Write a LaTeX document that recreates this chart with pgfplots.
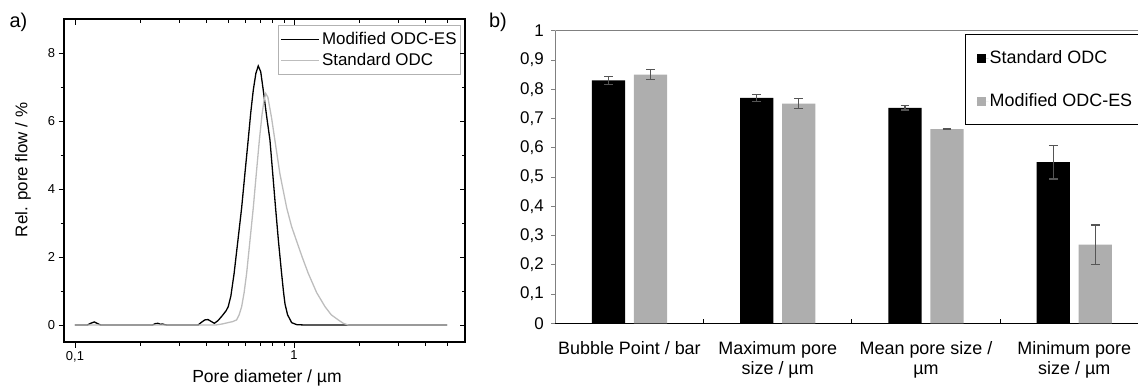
\documentclass[border=0pt]{standalone}
\usepackage{fontspec}
\setmainfont{Liberation Sans}
\usepackage{pgfplots}
\pgfplotsset{compat=1.18}
\definecolor{barg}{HTML}{AEAEAE}
\definecolor{lineg}{HTML}{BDBDBD}
\definecolor{errg}{HTML}{555555}
\pgfplotstableread{
x y
0.100 0
0.114 0
0.118 0.05
0.1225 0.09
0.127 0.04
0.131 0
0.226 0
0.233 0.04
0.239 0.05
0.246 0.02
0.251 0.03
0.257 0.01
0.263 0
0.365 0
0.378 0.08
0.392 0.15
0.405 0.16
0.420 0.10
0.433 0.05
0.450 0.13
0.470 0.27
0.490 0.42
0.501 0.54
0.515 0.85
0.533 1.52
0.555 2.5
0.577 3.45
0.597 4.45
0.618 5.44
0.635 6.25
0.652 6.91
0.670 7.4
0.687 7.62
0.705 7.45
0.724 6.91
0.750 6.15
0.777 5.44
0.800 4.45
0.824 3.45
0.850 2.45
0.878 1.52
0.895 1.0
0.910 0.62
0.935 0.30
0.976 0.07
1.03 0.01
1.12 0
5.0 0
}\modified
\pgfplotstableread{
x y
0.100 0
0.44 0
0.47 0.03
0.50 0.07
0.525 0.10
0.547 0.15
0.562 0.30
0.577 0.54
0.592 0.95
0.608 1.52
0.630 2.5
0.652 3.45
0.673 4.45
0.695 5.44
0.715 6.2
0.730 6.6
0.743 6.81
0.760 6.7
0.790 6.1
0.818 5.44
0.863 4.44
0.926 3.45
0.975 2.9
1.028 2.47
1.09 2.0
1.162 1.52
1.27 0.95
1.386 0.54
1.48 0.30
1.593 0.15
1.68 0.05
1.77 0
5.0 0
}\standard
\begin{document}
\begin{tikzpicture}
\useasboundingbox (0,0) rectangle (1138bp,387bp);
\node[font=\fontsize{20}{22}\selectfont] at (18.5bp,365bp) {a)};
\node[font=\fontsize{20}{22}\selectfont] at (498bp,365bp) {b)};
\node[font=\fontsize{17.6}{19}\selectfont, inner sep=0pt] at (267bp,9.5bp) {Pore diameter / µm};
\node[font=\fontsize{17}{19}\selectfont, inner sep=0pt, rotate=90] at (23bp,217bp) {Rel. pore flow / \%};
% ---------- panel a ----------
\begin{axis}[
  at={(64bp,45bp)}, anchor=south west, scale only axis,
  width=401bp, height=323bp,
  xmode=log, xmin=0.0891, xmax=6.04, ymin=-0.5, ymax=9,
  xtick={0.1,1}, xticklabels={{0,1},{1}},
  minor xtick={0.2,0.3,0.4,0.5,0.6,0.7,0.8,0.9,2,3,4,5},
  ytick={0,2,4,6,8}, minor ytick={1,3,5,7},
  xtick pos=left, ytick pos=left, tick align=outside,
  major tick length=5.5bp, minor tick length=3.5bp,
  tick style={black, line width=0.8bp},
  axis line style={black, line width=1.1bp},
  xticklabel style={font=\fontsize{13}{15}\selectfont},
  yticklabel style={font=\fontsize{13}{15}\selectfont},
  /pgf/number format/assume math mode=true,
  legend style={at={(axis description cs:0.99,0.981)}, anchor=north east,
    draw=gray!60, line width=0.8bp, font=\fontsize{17}{19}\selectfont,
    inner xsep=2bp, inner ysep=5bp, row sep=3bp,
    nodes={inner sep=2bp}},
  legend cell align=left,
  legend image code/.code={\draw[#1] (0bp,0bp) -- (38bp,0bp);},
]
\addplot[black, line width=1.3bp] table[x=x,y=y] {\modified};
\addplot[lineg, line width=1.3bp] table[x=x,y=y] {\standard};
\legend{Modified ODC-ES, Standard ODC}
\end{axis}
\begin{axis}[
  at={(64bp,45bp)}, anchor=south west, scale only axis,
  width=401bp, height=323bp,
  xmode=log, xmin=0.0891, xmax=6.04, ymin=-0.5, ymax=9,
  xtick={0.1,1}, xticklabels={},
  minor xtick={0.2,0.3,0.4,0.5,0.6,0.7,0.8,0.9,2,3,4,5},
  ytick={0,2,4,6,8}, minor ytick={1,3,5,7}, yticklabels={},
  xtick pos=right, ytick pos=right, tick align=inside,
  major tick length=5.5bp, minor tick length=3.5bp,
  tick style={black, line width=0.8bp},
  axis line style={draw=none},
]
\end{axis}
% ---------- panel b ----------
\begin{axis}[
  at={(555.3bp,63.7bp)}, anchor=south west, scale only axis,
  width=582.7bp, height=292.6bp,
  xmin=-0.5, xmax=3.43, ymin=0, ymax=1,
  axis x line*=bottom, axis y line*=left,
  x axis line style={-, black, line width=1.2bp},
  y axis line style={-, gray, line width=1bp},
  ytick={0,0.1,0.2,0.3,0.4,0.5,0.6,0.7,0.8,0.9,1},
  /pgf/number format/use comma,
  /pgf/number format/fixed,
  /pgf/number format/precision=1,
  /pgf/number format/assume math mode=true,
  xtick={0,1,2,3},
  xticklabels={Bubble Point / bar, Maximum pore\\size / µm, Mean pore size /\\µm, Minimum pore\\size / µm},
  xticklabel style={align=center, font=\fontsize{18}{20}\selectfont, yshift=-11bp},
  major x tick style={draw=none},
  minor xtick={0.5,1.5,2.5},
  minor x tick style={black, line width=0.8bp, yshift=4bp},
  tick align=outside, major tick length=4bp, minor tick length=4bp,
  major y tick style={gray, line width=0.8bp},
  yticklabel style={font=\fontsize{17}{19}\selectfont, xshift=-4bp},
  ybar, bar width=33.3bp,
  legend style={at={(axis description cs:0.7036,0.9887)}, anchor=north west,
    draw=black, line width=0.8bp, font=\fontsize{18}{20}\selectfont,
    inner xsep=11bp, inner ysep=15.5bp, row sep=26.5bp,
    nodes={inner sep=1bp}},
  legend cell align=left,
  legend image code/.code={\fill[#1] (0bp,-4.5bp) rectangle (9bp,4.5bp); \path (0bp,0bp) -- (12bp,0bp);},
]
\addplot[bar shift=-21bp, fill=black, draw=none,
  error bars/.cd, y dir=both, y explicit,
  error bar style={errg, line width=1.1bp},
  error mark options={errg, line width=1.1bp, mark size=4.3bp, rotate=90}]
  coordinates {(0,0.830) +- (0,0.015) (1,0.770) +- (0,0.013) (2,0.736) +- (0,0.007) (3,0.551) +- (0,0.058)};
\addplot[bar shift=21bp, fill=barg, draw=none,
  error bars/.cd, y dir=both, y explicit,
  error bar style={errg, line width=1.1bp},
  error mark options={errg, line width=1.1bp, mark size=4.3bp, rotate=90}]
  coordinates {(0,0.850) +- (0,0.018) (1,0.751) +- (0,0.016) (2,0.664) +- (0,0.001) (3,0.269) +- (0,0.067)};
\draw[gray, line width=1.2bp] (rel axis cs:0,1) -- (rel axis cs:1,1);
\legend{Standard ODC, Modified ODC-ES}
\end{axis}
\end{tikzpicture}
\end{document}
